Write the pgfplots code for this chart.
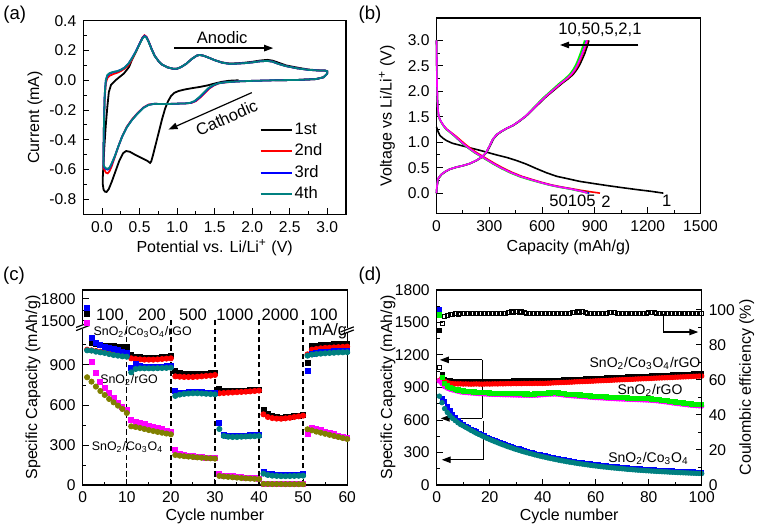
\documentclass[border=0pt]{standalone}
\usepackage{fontspec}
\setmainfont{Liberation Sans}
\usepackage{pgfplots}
\pgfplotsset{compat=1.18}
\usepackage{pgfplotstable}
\usetikzlibrary{arrows.meta}
\definecolor{oteal}{RGB}{0,128,128}
\definecolor{oolive}{RGB}{128,128,0}
\definecolor{ogreen}{RGB}{0,240,0}
\definecolor{omag}{RGB}{255,0,255}
\newcommand{\tf}{\fontsize{7.8}{8.8}\selectfont}
\newcommand{\lf}{\fontsize{8}{9.5}\selectfont}
\newcommand{\af}{\fontsize{8.3}{10}\selectfont}
\newcommand{\cf}{\fontsize{6.2}{7.5}\selectfont}
\newcommand{\df}{\fontsize{7}{8.5}\selectfont}
\newcommand{\pf}{\fontsize{9.3}{11}\selectfont}
\newcommand{\SCR}{SnO\textsubscript{2}/Co\textsubscript{3}O\textsubscript{4}/rGO}
\newcommand{\SR}{SnO\textsubscript{2}/rGO}
\newcommand{\SC}{SnO\textsubscript{2}/Co\textsubscript{3}O\textsubscript{4}}
\tikzset{arr/.style={line width=0.6pt,-{Triangle[length=4.5pt,width=3.2pt]}}}
\pgfplotsset{
  myax/.style={scale only axis, anchor=south west, clip=false,
    tick align=inside, xtick pos=left, ytick pos=left,
    major tick length=3pt, minor tick length=1.7pt,
    tick style={black, line width=0.5pt},
    axis line style={line width=0.6pt},
    tick label style={font=\tf}, label style={font=\lf},
    /pgf/number format/assume math mode=true,
    /pgf/number format/set thousands separator={}},
  dec1/.style={/pgf/number format/.cd, fixed, fixed zerofill, precision=1},
}

\pgfplotstableread{
n bk rd bl tl mg ol
1 1280 1015 1330 1010 1213 808
2 1063 1010 1105 1008 925 775
3 1055 1005 1068 1000 838 738
4 1050 1000 1050 995 770 705
5 1045 998 1037 990 725 675
6 1042 995 1025 982 688 645
7 1040 993 1018 975 650 620
8 1038 990 1010 970 613 595
9 1037 990 1000 965 588 570
10 1035 988 992 962 563 540
11 975 950 875 845 488 440
12 962 945 905 870 475 435
13 958 942 890 875 465 428
14 955 940 885 875 455 420
15 955 940 885 875 446 412
16 955 940 885 875 437 405
17 955 942 888 876 428 398
18 958 945 888 877 418 392
19 962 948 890 878 408 386
20 965 950 892 880 400 380
21 855 815 705 668 262 225
22 838 812 690 678 232 220
23 835 810 692 683 225 216
24 833 810 695 686 220 213
25 833 810 698 688 216 210
26 833 812 698 688 212 207
27 835 815 696 686 209 204
28 835 818 694 684 206 202
29 838 820 690 682 204 200
30 840 825 688 680 202 198
31 720 688 467 420 80 68
32 705 690 375 368 72 64
33 703 692 370 362 68 61
34 703 694 368 360 65 58
35 705 696 368 360 62 55
36 707 698 370 362 59 52
37 708 700 372 364 56 50
38 710 702 373 365 53 48
39 712 705 374 366 50 46
40 715 708 375 368 48 44
41 560 530 100 85 12 8
42 530 510 85 75 11 8
43 515 502 80 70 10 7
44 508 498 77 68 10 7
45 505 497 75 66 9 7
46 508 500 75 66 9 6
47 512 504 76 67 9 6
48 518 510 77 68 8 6
49 522 515 78 69 8 6
50 528 520 80 70 8 6
51 918 980 855 970 385 418
52 1040 1015 980 978 428 410
53 1045 1020 990 982 420 400
54 1048 1025 995 985 410 392
55 1050 1028 998 988 400 384
56 1053 1030 1000 990 390 376
57 1055 1032 1003 992 380 368
58 1057 1034 1005 994 370 360
59 1058 1036 1007 995 360 352
60 1060 1038 1008 996 352 345
}\tabc

\pgfplotstableread{
n bk rd mg gr bl tl ce
1 1430 965 960 1570 1620 820 67.0
2 1020 990 935 990 800 760 92.5
3 978 958 908 940 770 705 96.3
4 965 945 895 915 725 670 97.2
5 960 938 885 900 690 640 97.5
6 958 935 878 892 655 615 97.6
7 957 934 872 885 625 595 97.8
8 956 933 866 878 600 575 97.7
9 957 934 860 872 578 558 97.8
10 955 932 856 868 558 546 97.9
11 956 933 854 866 544 532 97.8
12 955 932 852 864 530 518 97.8
13 954 931 850 862 516 504 97.9
14 955 932 848 860 503 491 97.8
15 956 933 846 858 490 478 97.9
16 955 932 844 856 478 466 97.8
17 954 931 843 855 466 454 97.9
18 955 932 841 853 455 443 97.8
19 956 933 840 852 443 431 97.9
20 955 932 838 850 432 420 97.9
21 956 933 837 849 422 410 97.8
22 957 934 836 848 412 400 97.9
23 956 933 836 848 402 390 98.0
24 958 935 835 847 392 380 97.9
25 957 934 834 846 383 371 98.0
26 958 935 833 845 374 362 98.2
27 959 936 833 845 365 353 98.8
28 958 935 832 844 357 345 99.3
29 960 937 831 843 348 336 98.6
30 959 936 831 843 340 328 99.4
31 960 937 830 842 333 321 98.7
32 959 936 830 842 325 313 99.2
33 961 938 829 841 318 306 98.5
34 960 937 829 841 311 299 98.3
35 961 938 828 840 304 292 98.1
36 960 937 828 840 298 286 98.0
37 962 939 829 841 291 279 98.1
38 961 938 830 842 285 273 98.0
39 962 939 832 844 279 267 98.1
40 961 938 834 846 273 261 98.0
41 962 939 836 848 268 256 98.1
42 963 940 838 850 262 250 98.0
43 964 941 839 851 257 245 98.1
44 966 943 840 852 252 240 98.2
45 967 944 840 852 247 235 98.0
46 968 945 838 850 242 230 98.1
47 969 946 835 847 237 225 98.0
48 970 947 831 843 233 221 98.1
49 971 948 828 840 228 216 98.0
50 972 949 826 838 224 212 98.2
51 973 950 824 836 220 208 98.4
52 975 952 822 834 216 204 98.9
53 976 953 821 833 212 200 99.2
54 977 954 819 831 208 196 98.7
55 978 955 817 829 205 193 99.0
56 979 956 815 827 201 189 98.4
57 980 957 813 825 198 186 98.1
58 981 958 811 823 194 182 98.0
59 982 959 809 821 191 179 98.1
60 984 961 807 819 188 176 98.0
61 985 962 806 818 185 173 98.1
62 986 963 805 817 182 170 98.0
63 987 964 803 815 179 167 98.1
64 988 965 802 814 177 165 98.3
65 989 966 800 812 174 162 98.8
66 990 967 799 811 171 159 98.5
67 992 969 798 810 169 157 98.9
68 993 970 796 808 167 155 98.3
69 994 971 795 807 164 152 98.1
70 995 972 794 806 162 150 98.0
71 996 973 793 805 160 148 98.1
72 997 974 792 804 157 145 98.0
73 998 975 791 803 155 143 98.1
74 999 976 790 802 153 141 98.0
75 1001 978 789 801 151 139 98.1
76 1002 979 788 800 149 137 98.0
77 1003 980 787 799 148 136 98.1
78 1004 981 786 798 146 134 98.0
79 1005 982 785 797 144 132 98.3
80 1006 983 784 796 143 131 98.7
81 1007 984 782 794 141 129 98.9
82 1009 986 780 792 140 128 98.4
83 1010 987 778 790 138 126 98.1
84 1011 988 775 787 137 125 98.0
85 1012 989 772 784 135 123 98.1
86 1013 990 769 781 134 122 98.0
87 1014 991 766 778 133 121 98.1
88 1015 992 762 774 131 119 98.0
89 1016 993 758 770 130 118 98.1
90 1018 995 755 767 129 117 98.0
91 1019 996 752 764 127 115 98.1
92 1020 997 749 761 126 114 98.0
93 1021 998 746 758 125 113 98.1
94 1022 999 743 755 124 112 98.0
95 1023 1000 740 752 123 111 98.1
96 1024 1001 737 749 122 110 98.0
97 1026 1003 735 747 121 109 98.1
98 1027 1004 733 745 120 108 98.0
99 1028 1005 731 743 119 107 98.1
100 1029 1006 729 741 118 106 98.0
}\tabd

\begin{document}
\begin{tikzpicture}
\useasboundingbox (0,0) rectangle (379.5pt,265pt);
\node[font=\pf] at (7.35pt,257.5pt) {(a)};
\node[font=\pf] at (185pt,257.5pt) {(b)};
\node[font=\pf] at (7pt,127pt) {(c)};
\node[font=\pf] at (185pt,127pt) {(d)};

% ---------------- (a)
\begin{axis}[myax, at={(41.65pt,157.85pt)}, width=131.35pt, height=96.8pt,
  xmin=-0.25, xmax=3.25, ymin=-0.9, ymax=0.4,
  xtick={0,0.5,1,1.5,2,2.5,3}, ytick={-0.8,-0.6,-0.4,-0.2,0,0.2,0.4},
  minor x tick num=1, minor y tick num=1,
  xticklabel style={dec1}, yticklabel style={dec1},
  xlabel={Potential vs. Li/Li\textsuperscript{+} (V)}, ylabel={Current (mA)},
  xlabel style={at={(axis description cs:0.5,-0.174)}, anchor=center},
  ylabel style={at={(axis description cs:-0.184,0.5)}, anchor=center},
  legend style={draw=none, fill=none, at={(axis description cs:0.67,0.485)}, anchor=north west, font=\af, row sep=1.2pt, inner sep=0pt, nodes={inner sep=1pt}},
  legend cell align=left,
  legend image code/.code={\draw[#1, line width=1pt] (0pt,0pt) -- (15.5pt,0pt);}]
\addplot[black, line width=0.9pt] coordinates {
(1.82,0.0)(1.70,-0.003)(1.60,-0.01)(1.50,-0.022)(1.40,-0.035)(1.30,-0.045)(1.20,-0.053)(1.10,-0.062)(1.02,-0.072)(0.96,-0.085)(0.92,-0.105)(0.88,-0.14)(0.84,-0.19)(0.80,-0.26)(0.76,-0.34)(0.72,-0.42)(0.68,-0.50)(0.655,-0.545)(0.64,-0.555)(0.60,-0.54)(0.52,-0.52)(0.44,-0.50)(0.37,-0.48)(0.32,-0.475)(0.28,-0.49)(0.23,-0.54)(0.18,-0.61)(0.13,-0.68)(0.09,-0.73)(0.06,-0.75)(0.04,-0.748)(0.02,-0.735)(0.01,-0.70)(0.01,-0.65)(0.03,-0.45)(0.05,-0.30)(0.07,-0.18)(0.09,-0.08)(0.12,-0.03)(0.18,0.0)(0.24,0.025)(0.29,0.045)(0.33,0.07)(0.36,0.09)(0.40,0.14)(0.45,0.19)(0.50,0.245)(0.54,0.285)(0.565,0.298)(0.59,0.29)(0.62,0.26)(0.66,0.21)(0.70,0.165)(0.75,0.13)(0.80,0.105)(0.87,0.087)(0.95,0.077)(1.00,0.078)(1.05,0.088)(1.12,0.11)(1.20,0.145)(1.26,0.165)(1.30,0.17)(1.35,0.165)(1.42,0.152)(1.50,0.135)(1.60,0.12)(1.70,0.112)(1.80,0.114)(1.90,0.118)(2.00,0.124)(2.10,0.132)(2.20,0.137)(2.27,0.132)(2.35,0.118)(2.45,0.10)(2.60,0.085)(2.75,0.072)(2.90,0.066)(2.97,0.066)(3.00,0.06)(3.00,0.045)(2.95,0.02)(2.85,0.008)(2.6,0.002)(2.3,0.0)};
\addlegendentry{1st}
\addplot[red, line width=0.9pt] coordinates {
(3.00,0.045)(2.95,0.02)(2.85,0.008)(2.6,0.002)(2.3,0.0)(2.0,-0.004)(1.8,-0.008)(1.65,-0.014)(1.56,-0.02)(1.49,-0.035)(1.43,-0.055)(1.37,-0.085)(1.31,-0.115)(1.25,-0.14)(1.19,-0.152)(1.10,-0.156)(1.00,-0.157)(0.90,-0.159)(0.80,-0.160)(0.70,-0.158)(0.62,-0.163)(0.55,-0.183)(0.47,-0.222)(0.40,-0.262)(0.33,-0.312)(0.27,-0.375)(0.22,-0.44)(0.17,-0.515)(0.13,-0.575)(0.10,-0.61)(0.075,-0.625)(0.05,-0.62)(0.03,-0.60)(0.02,-0.575)(0.02,-0.45)(0.025,-0.3)(0.035,-0.12)(0.05,-0.02)(0.07,0.015)(0.10,0.03)(0.15,0.042)(0.20,0.05)(0.25,0.062)(0.30,0.078)(0.35,0.1)(0.40,0.14)(0.45,0.19)(0.50,0.245)(0.54,0.288)(0.565,0.302)(0.59,0.293)(0.62,0.262)(0.66,0.21)(0.70,0.165)(0.75,0.13)(0.80,0.105)(0.87,0.087)(0.95,0.077)(1.00,0.078)(1.05,0.088)(1.12,0.11)(1.20,0.145)(1.26,0.165)(1.30,0.17)(1.35,0.165)(1.42,0.152)(1.50,0.135)(1.60,0.118)(1.70,0.11)(1.80,0.112)(1.90,0.115)(2.00,0.12)(2.10,0.127)(2.20,0.13)(2.27,0.125)(2.35,0.11)(2.45,0.095)(2.60,0.08)(2.75,0.07)(2.90,0.065)(2.97,0.065)(3.00,0.06)(3.00,0.045)};
\addlegendentry{2nd}
\addplot[blue, line width=0.9pt] coordinates {
(3.00,0.045)(2.95,0.02)(2.85,0.008)(2.6,0.002)(2.3,0.0)(2.0,-0.004)(1.8,-0.008)(1.65,-0.013)(1.55,-0.02)(1.48,-0.035)(1.42,-0.055)(1.36,-0.085)(1.30,-0.115)(1.24,-0.14)(1.18,-0.152)(1.10,-0.156)(1.00,-0.157)(0.90,-0.159)(0.80,-0.160)(0.70,-0.158)(0.62,-0.165)(0.55,-0.185)(0.47,-0.225)(0.40,-0.265)(0.33,-0.315)(0.27,-0.375)(0.22,-0.44)(0.17,-0.51)(0.13,-0.56)(0.10,-0.59)(0.075,-0.60)(0.05,-0.595)(0.03,-0.585)(0.02,-0.57)(0.02,-0.45)(0.025,-0.3)(0.035,-0.1)(0.05,0.0)(0.07,0.03)(0.10,0.045)(0.15,0.055)(0.20,0.06)(0.25,0.07)(0.30,0.085)(0.35,0.11)(0.40,0.15)(0.45,0.195)(0.50,0.245)(0.54,0.285)(0.565,0.298)(0.59,0.29)(0.62,0.26)(0.66,0.21)(0.70,0.165)(0.75,0.13)(0.80,0.105)(0.87,0.087)(0.95,0.077)(1.00,0.078)(1.05,0.088)(1.12,0.11)(1.20,0.145)(1.26,0.165)(1.30,0.17)(1.35,0.165)(1.42,0.152)(1.50,0.135)(1.60,0.118)(1.70,0.11)(1.80,0.112)(1.90,0.115)(2.00,0.12)(2.10,0.127)(2.20,0.13)(2.27,0.125)(2.35,0.11)(2.45,0.095)(2.60,0.08)(2.75,0.07)(2.90,0.065)(2.97,0.065)(3.00,0.06)(3.00,0.045)};
\addlegendentry{3rd}
\addplot[oteal, line width=0.9pt] coordinates {
(3.00,0.045)(2.95,0.02)(2.85,0.008)(2.6,0.002)(2.3,0.0)(2.0,-0.004)(1.8,-0.008)(1.65,-0.013)(1.55,-0.02)(1.47,-0.035)(1.41,-0.055)(1.35,-0.085)(1.29,-0.115)(1.23,-0.14)(1.17,-0.152)(1.10,-0.156)(1.00,-0.157)(0.90,-0.159)(0.80,-0.160)(0.70,-0.158)(0.62,-0.166)(0.55,-0.186)(0.47,-0.226)(0.40,-0.266)(0.33,-0.316)(0.27,-0.376)(0.22,-0.44)(0.17,-0.51)(0.13,-0.555)(0.10,-0.585)(0.075,-0.595)(0.05,-0.59)(0.03,-0.58)(0.02,-0.565)(0.02,-0.45)(0.025,-0.3)(0.035,-0.1)(0.05,0.0)(0.07,0.035)(0.10,0.048)(0.15,0.056)(0.20,0.061)(0.25,0.07)(0.30,0.085)(0.35,0.11)(0.40,0.148)(0.45,0.192)(0.50,0.242)(0.54,0.282)(0.565,0.295)(0.59,0.287)(0.62,0.258)(0.66,0.208)(0.70,0.164)(0.75,0.13)(0.80,0.105)(0.87,0.087)(0.95,0.077)(1.00,0.078)(1.05,0.088)(1.12,0.11)(1.20,0.145)(1.26,0.165)(1.30,0.17)(1.35,0.165)(1.42,0.152)(1.50,0.135)(1.60,0.118)(1.70,0.11)(1.80,0.112)(1.90,0.115)(2.00,0.12)(2.10,0.127)(2.20,0.13)(2.27,0.125)(2.35,0.11)(2.45,0.095)(2.60,0.08)(2.75,0.07)(2.90,0.065)(2.97,0.065)(3.00,0.06)(3.00,0.045)};
\addlegendentry{4th}
\node[font=\af] at (axis cs:1.6,0.288) {Anodic};
\draw[arr] (axis cs:0.965,0.216) -- (axis cs:2.28,0.216);
\node[font=\af, rotate=24] at (axis cs:1.66,-0.252) {Cathodic};
\draw[arr] (axis cs:1.995,-0.083) -- (axis cs:0.886,-0.331);
\end{axis}

% ---------------- (b)
\begin{axis}[myax, at={(218.25pt,158.25pt)}, width=132pt, height=97.75pt,
  xmin=0, xmax=1500, ymin=-0.4, ymax=3.44,
  xtick={0,300,600,900,1200,1500}, ytick={0,0.5,1,1.5,2,2.5,3},
  minor x tick num=1, minor y tick num=1,
  yticklabel style={dec1},
  xlabel={Capacity (mAh/g)}, ylabel={Voltage vs Li/Li\textsuperscript{+} (V)},
  xlabel style={at={(axis description cs:0.5,-0.173)}, anchor=center},
  ylabel style={at={(axis description cs:-0.1875,0.5)}, anchor=center}]
\addplot[black, line width=0.8pt] coordinates {
(0,1.30)(5,1.25)(10,1.20)(20,1.13)(40,1.07)(58,1.03)(90,0.98)(134,0.94)(190,0.89)(247,0.84)(300,0.79)(342,0.75)(400,0.70)(455,0.64)(510,0.57)(569,0.48)(625,0.40)(683,0.33)(750,0.28)(815,0.23)(890,0.19)(967,0.15)(1050,0.11)(1137,0.07)(1220,0.035)(1289,0.0)};
\addplot[black, line width=0.8pt] coordinates {
(0,0)(4,0.15)(10,0.28)(28,0.36)(50,0.42)(77,0.47)(115,0.51)(152,0.54)(190,0.58)(228,0.64)(260,0.71)(285,0.80)(305,0.93)(323,1.06)(345,1.15)(370,1.21)(400,1.27)(437,1.33)(475,1.42)(512,1.52)(550,1.65)(592,1.79)(622,1.89)(653,1.98)(684,2.07)(715,2.16)(746,2.24)(776,2.33)(796,2.42)(812,2.51)(827,2.62)(842,2.74)(855,2.87)(866,3.0)};
\addplot[red, line width=0.8pt] coordinates {
(0,3.0)(1,2.7)(2,2.4)(3,2.1)(5,1.85)(8,1.65)(12,1.52)(20,1.44)(30,1.38)(40,1.33)(57,1.26)(80,1.20)(110,1.12)(140,1.03)(167,0.95)(197,0.87)(226,0.80)(255,0.74)(293,0.66)(332,0.58)(380,0.49)(428,0.41)(485,0.33)(541,0.27)(600,0.21)(655,0.16)(712,0.12)(772,0.085)(820,0.055)(868,0.03)(905,0.012)(929,0.0)};
\addplot[red, line width=0.8pt] coordinates {
(0,0)(3,0.15)(8,0.28)(25,0.36)(48,0.42)(75,0.47)(112,0.51)(150,0.54)(188,0.58)(225,0.64)(258,0.71)(282,0.80)(302,0.93)(320,1.06)(342,1.15)(367,1.21)(397,1.27)(434,1.33)(472,1.42)(509,1.52)(548,1.65)(589,1.79)(619,1.89)(649,1.98)(680,2.07)(710,2.16)(740,2.24)(769,2.33)(789,2.42)(804,2.51)(818,2.62)(832,2.74)(846,2.87)(859,3.0)};
\addplot[blue, line width=0.8pt] coordinates {
(0,3.0)(1,2.7)(2,2.4)(3,2.1)(5,1.85)(8,1.65)(12,1.52)(20,1.44)(30,1.38)(39,1.33)(55,1.26)(77,1.20)(103,1.12)(130,1.03)(157,0.95)(187,0.87)(216,0.80)(246,0.74)(285,0.66)(323,0.58)(370,0.49)(418,0.41)(475,0.33)(531,0.27)(590,0.21)(645,0.16)(700,0.12)(759,0.085)(805,0.05)(845,0.02)(868,0.0)};
\addplot[blue, line width=0.8pt] coordinates {
(0,0)(3,0.15)(8,0.28)(25,0.36)(48,0.42)(75,0.47)(112,0.51)(150,0.54)(188,0.58)(225,0.64)(258,0.71)(282,0.80)(302,0.93)(320,1.06)(342,1.15)(367,1.21)(397,1.27)(434,1.33)(472,1.42)(509,1.52)(546,1.65)(586,1.79)(616,1.89)(646,1.98)(676,2.07)(705,2.16)(735,2.24)(763,2.33)(783,2.42)(798,2.51)(812,2.62)(826,2.74)(839,2.87)(852,3.0)};
\addplot[ogreen, line width=0.8pt] coordinates {
(0,3.0)(1,2.6)(2,2.3)(4,2.0)(6,1.75)(9,1.58)(14,1.48)(20,1.43)(30,1.37)(39,1.32)(55,1.25)(77,1.19)(105,1.11)(134,1.02)(160,0.94)(190,0.86)(218,0.79)(247,0.73)(285,0.65)(323,0.57)(370,0.48)(418,0.40)(475,0.32)(531,0.26)(590,0.205)(645,0.155)(700,0.115)(759,0.08)(805,0.045)(840,0.02)(858,0.0)};
\addplot[ogreen, line width=0.8pt] coordinates {
(0,0)(3,0.15)(8,0.28)(25,0.36)(48,0.42)(75,0.47)(112,0.51)(150,0.54)(188,0.58)(225,0.64)(258,0.71)(282,0.80)(302,0.93)(320,1.06)(342,1.15)(367,1.21)(397,1.27)(434,1.33)(472,1.42)(509,1.52)(544,1.65)(583,1.79)(612,1.89)(641,1.98)(670,2.07)(699,2.16)(728,2.24)(756,2.33)(775,2.42)(790,2.51)(804,2.62)(817,2.74)(830,2.87)(842,3.0)};
\addplot[omag, line width=0.8pt] coordinates {
(0,3.0)(1,2.7)(2,2.4)(3,2.1)(5,1.85)(8,1.65)(12,1.52)(20,1.44)(30,1.38)(39,1.33)(55,1.26)(77,1.20)(105,1.12)(134,1.03)(160,0.95)(190,0.87)(218,0.80)(247,0.74)(285,0.66)(323,0.58)(370,0.49)(418,0.41)(475,0.33)(531,0.27)(590,0.21)(645,0.16)(700,0.12)(759,0.085)(805,0.05)(840,0.02)(856,0.0)};
\addplot[omag, line width=0.8pt] coordinates {
(0,0)(3,0.15)(8,0.28)(25,0.36)(48,0.42)(75,0.47)(112,0.51)(150,0.54)(188,0.58)(225,0.64)(258,0.71)(282,0.80)(302,0.93)(320,1.06)(342,1.15)(367,1.21)(397,1.27)(434,1.33)(472,1.42)(509,1.52)(547,1.65)(587,1.79)(617,1.89)(647,1.98)(677,2.07)(707,2.16)(737,2.24)(765,2.33)(785,2.42)(800,2.51)(814,2.62)(828,2.74)(842,2.87)(855,3.0)};
\node[font=\af] at (axis cs:929,3.2) {10,50,5,2,1};
\draw[arr] (axis cs:1147,2.91) -- (axis cs:702,2.91);
\node[font=\af] at (axis cs:773,-0.16) {50105};
\node[font=\af] at (axis cs:963,-0.16) {2};
\node[font=\af] at (axis cs:1308,-0.16) {1};
\end{axis}

% ---------------- (c)
\begin{axis}[myax, at={(41.35pt,22.5pt)}, width=132.25pt, height=97.5pt,
  xmin=0, xmax=60, ymin=0, ymax=1462.5,
  xtick={0,10,20,30,40,50,60}, minor x tick num=1,
  ytick={0,300,600,900,1230,1395}, yticklabels={0,300,600,900,1500,1800},
  minor ytick={150,450,750,1050,1312},
  xlabel={Cycle number}, ylabel={Specific Capacity (mAh/g)},
  xlabel style={at={(axis description cs:0.5,-0.163)}, anchor=center},
  ylabel style={at={(axis description cs:-0.188,0.5)}, anchor=center}]
\addplot[only marks, mark=square*, mark size=1.25pt, black] table[x=n,y=bk] {\tabc};
\addplot[only marks, mark=*, mark size=1.3pt, red] table[x=n,y=rd] {\tabc};
\addplot[only marks, mark=square*, mark size=1.25pt, blue] table[x=n,y=bl] {\tabc};
\addplot[only marks, mark=*, mark size=1.3pt, oteal] table[x=n,y=tl] {\tabc};
\addplot[only marks, mark=square*, mark size=1.25pt, omag] table[x=n,y=mg] {\tabc};
\addplot[only marks, mark=*, mark size=1.3pt, oolive] table[x=n,y=ol] {\tabc};
\foreach \xx in {10,20,30,40,50} {
  \edef\tmp{\noexpand\draw[line width=0.7pt, dash pattern=on 2.6pt off 1.6pt] (axis cs:\xx,0) -- (axis cs:\xx,1240);}\tmp
}
\node[font=\af] at (axis cs:6.2,1275) {100};
\node[font=\af] at (axis cs:15.7,1275) {200};
\node[font=\af] at (axis cs:25,1275) {500};
\node[font=\af] at (axis cs:34.5,1275) {1000};
\node[font=\af] at (axis cs:44.8,1275) {2000};
\node[font=\af] at (axis cs:54.7,1275) {100};
\node[font=\af] at (axis cs:55.6,1150) {mA/g};
\node[font=\cf, anchor=west, inner sep=0pt] at (axis cs:2.4,1145) {\SCR};
\node[font=\cf, anchor=west, inner sep=0pt] at (axis cs:3.9,787) {\SR};
\node[font=\cf, anchor=west, inner sep=0pt] at (axis cs:2.0,287) {\SC};
% axis breaks
\fill[white] (rel axis cs:-0.01,0.80) rectangle (rel axis cs:0.01,0.826);
\draw[line width=0.6pt] (rel axis cs:-0.025,0.792) -- (rel axis cs:0.025,0.818);
\draw[line width=0.6pt] (rel axis cs:-0.025,0.808) -- (rel axis cs:0.025,0.834);
\fill[white] (rel axis cs:0.99,0.777) rectangle (rel axis cs:1.01,0.803);
\draw[line width=0.6pt] (rel axis cs:0.975,0.769) -- (rel axis cs:1.025,0.795);
\draw[line width=0.6pt] (rel axis cs:0.975,0.785) -- (rel axis cs:1.025,0.811);
\end{axis}

% ---------------- (d)
\begin{axis}[myax, at={(218.35pt,22.5pt)}, width=132.5pt, height=97.5pt,
  xmin=0, xmax=100, ymin=0, ymax=1800,
  xtick={0,20,40,60,80,100}, minor x tick num=1,
  ytick={0,300,600,900,1200,1500,1800}, minor y tick num=1,
  xlabel={Cycle number}, ylabel={Specific Capacity (mAh/g)},
  xlabel style={at={(axis description cs:0.5,-0.163)}, anchor=center},
  ylabel style={at={(axis description cs:-0.184,0.5)}, anchor=center}]
\addplot[only marks, mark=square*, mark size=1.05pt, black] table[x=n,y=bk] {\tabd};
\addplot[only marks, mark=*, mark size=1.15pt, red] table[x=n,y=rd] {\tabd};
\addplot[only marks, mark=*, mark size=1.15pt, omag] table[x=n,y=mg] {\tabd};
\addplot[only marks, mark=square*, mark size=1.05pt, ogreen] table[x=n,y=gr] {\tabd};
\addplot[only marks, mark=square*, mark size=1.05pt, blue] table[x=n,y=bl] {\tabd};
\addplot[only marks, mark=*, mark size=1.15pt, oteal] table[x=n,y=tl] {\tabd};
\draw[line width=0.6pt] (axis cs:17.2,1155) -- (axis cs:17.2,615);
\draw[arr] (axis cs:17.2,1155) -- (axis cs:1.2,1155);
\draw[arr] (axis cs:17.2,615) -- (axis cs:1.5,615);
\draw[line width=0.6pt] (axis cs:17.6,590) -- (axis cs:17.6,233);
\draw[arr] (axis cs:17.6,233) -- (axis cs:1.9,233);
\draw[arr] (axis cs:85.5,1583) -- (axis cs:85.5,1412) -- (axis cs:98.7,1412);
\node[font=\df] at (axis cs:78.6,1124) {\SCR};
\node[font=\df] at (axis cs:80.5,875) {\SR};
\node[font=\df] at (axis cs:79.9,248) {\SC};
\end{axis}
\begin{axis}[myax, at={(218.35pt,22.5pt)}, width=132.5pt, height=97.5pt,
  xmin=0, xmax=100, ymin=0, ymax=111.4,
  axis x line=none, axis y line*=right, ytick pos=right,
  ytick={0,20,40,60,80,100}, minor y tick num=1,
  ylabel={Coulombic efficiency (\%)},
  ylabel style={at={(axis description cs:1.17,0.5)}, anchor=center, rotate=0}]
\addplot[only marks, mark=square, mark size=1.0pt, black, line width=0.35pt, mark options={fill=white}] table[x=n,y=ce] {\tabd};
\end{axis}
\end{tikzpicture}
\end{document}
